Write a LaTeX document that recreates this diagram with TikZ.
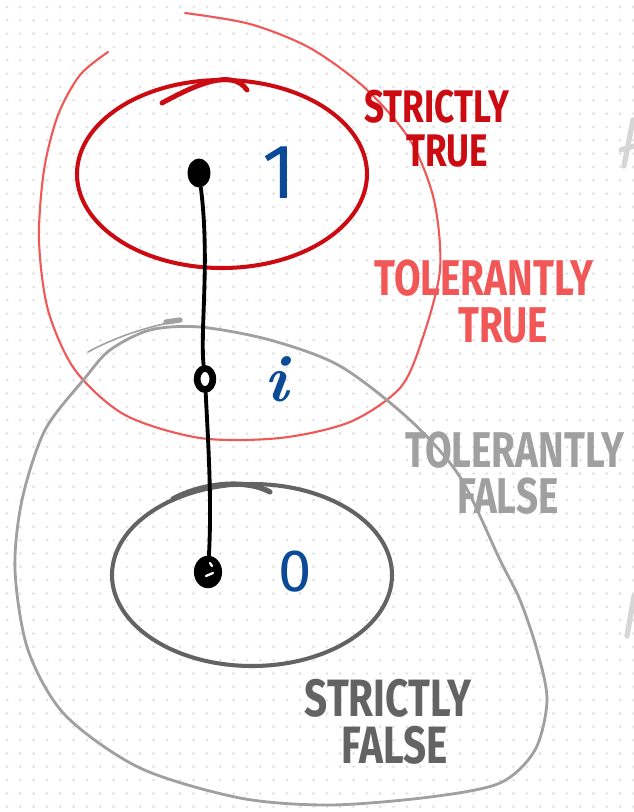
\documentclass[tikz,border=0pt]{standalone}
\usepackage{fontspec}
\setsansfont{Fira Sans}
\usepackage{graphicx}
\usetikzlibrary{positioning,shapes.geometric}
\definecolor{strictred}{HTML}{CC0A12}
\definecolor{tolred}{HTML}{F25757}
\definecolor{tolgray}{HTML}{A0A0A0}
\definecolor{strictgray}{HTML}{636363}
\definecolor{valblue}{HTML}{0B4A96}
\definecolor{griddot}{HTML}{E3E3E3}
\definecolor{edgegray}{HTML}{D6D6D6}
\newcommand{\handcaps}[1]{\scalebox{1}[1.3]{#1}}

\begin{document}
\begin{tikzpicture}[
  x=0.02cm, y=-0.02cm, line cap=round, line join=round,
  word/.style={font=\sffamily\bfseries\fontsize{#1}{#1}\selectfont, inner sep=0pt},
  digit/.style={text=valblue, inner sep=0pt},
  stloop/.style={draw=strictred, line width=2.3pt},
  ttloop/.style={draw=tolred, line width=1.2pt},
  tfloop/.style={draw=tolgray, line width=1.6pt},
  sfloop/.style={draw=strictgray, line width=2.3pt},
  stem/.style={draw=black, line width=2.2pt},
  fulldot/.style={ellipse, fill=black, inner sep=0pt, minimum width=13pt, minimum height=16.5pt},
  ringdot/.style={ellipse, draw=black, fill=white, line width=3.8pt, inner sep=0pt,
    minimum width=9pt, minimum height=12pt},
  edgemark/.style={draw=edgegray, line width=3pt}
]
\fill[white] (0,0) rectangle (634,812);
\useasboundingbox (0,0) rectangle (634,812);
% dotted paper
\foreach \i in {0,...,47}{\foreach \j in {0,...,60}{
  \fill[griddot] (7+13.33*\i,7+13.33*\j) circle[radius=0.9pt];}}

% the four regions
\draw[ttloop] plot[smooth] coordinates {(108,52) (80,75) (58,115) (44,170) (39,240)
  (48,310) (75,370) (125,415) (200,438) (280,438) (350,422) (400,388) (422,340)
  (440,270) (434,200) (410,140) (365,88) (310,48) (250,24) (185,13)};
\draw[tfloop] plot[smooth cycle] coordinates {(85,378) (45,430) (22,500) (15,570)
  (28,650) (65,715) (140,768) (240,798) (330,805) (430,797) (500,783) (535,750)
  (547,700) (537,650) (520,600) (500,560) (460,477) (410,420) (340,366) (270,340)
  (200,327) (150,330) (110,350)};
\draw[tfloop, line width=0.9pt] (178,321) .. controls (140,328) and (110,340) .. (88,352);
\draw[tfloop, line width=3pt] (166,322) -- (180,320);
\draw[stloop] (222,174) ellipse [x radius=145, y radius=94];
\draw[stloop, line width=2.8pt] (162,103) .. controls (195,85) and (232,68) .. (247,90);
\draw[sfloop] (252,575) ellipse [x radius=140, y radius=91];
\draw[sfloop, line width=3pt] (173,499) .. controls (200,484) and (245,478) .. (270,492);

% the three values
\node[fulldot] (pt1) at (199,173) {};
\node[ringdot] (pti) at (205,379) {};
\node[fulldot, minimum width=16pt, minimum height=18.5pt] (pt0) at (208,572) {};
\draw[white, line width=1.3pt] (210,563) -- (212,566);
\draw[white, line width=1.3pt] (206,576) -- (213,573);
\draw[stem] (pt1) .. controls (210,260) and (200,330) .. (pti);
\draw[stem] (pti) .. controls (208,440) and (212,500) .. (pt0);
\node[digit, font=\sffamily\fontsize{44}{44}\selectfont, right=29pt of pt1] (one) {1};
\node[digit, font=\bfseries\itshape\fontsize{38}{38}\selectfont, right=27pt of pti] (half) {i};
\node[digit, font=\sffamily\fontsize{34}{34}\selectfont, right=32pt of pt0] (zero) {0};

% labels
\node[word=20, text=strictred] (stA) at (437,107) {\handcaps{STRICTLY}};
\node[word=20, text=strictred, below=6pt of stA, xshift=5.7pt] (stB) {\handcaps{TRUE}};
\node[word=22, text=tolred] (ttA) at (484,278) {\handcaps{TOLERANTLY}};
\node[word=22, text=tolred, below=6pt of ttA, xshift=11pt] (ttB) {\handcaps{TRUE}};
\node[word=22, text=tolgray] (tfA) at (515,450) {\handcaps{TOLERANTLY}};
\node[word=22, text=tolgray, below=5pt of tfA, xshift=-4pt] (tfB) {\handcaps{FALSE}};
\node[word=23, text=strictgray] (sfA) at (388,698) {\handcaps{STRICTLY}};
\node[word=23, text=strictgray, below=5pt of sfA, xshift=4pt] (sfB) {\handcaps{FALSE}};

% cut marks at the right edge
\draw[edgemark] (633,120) -- (624,166);
\draw[edgemark] (621,150) -- (634,146);
\draw[edgemark] (634,596) -- (627,636);
\end{tikzpicture}
\end{document}
